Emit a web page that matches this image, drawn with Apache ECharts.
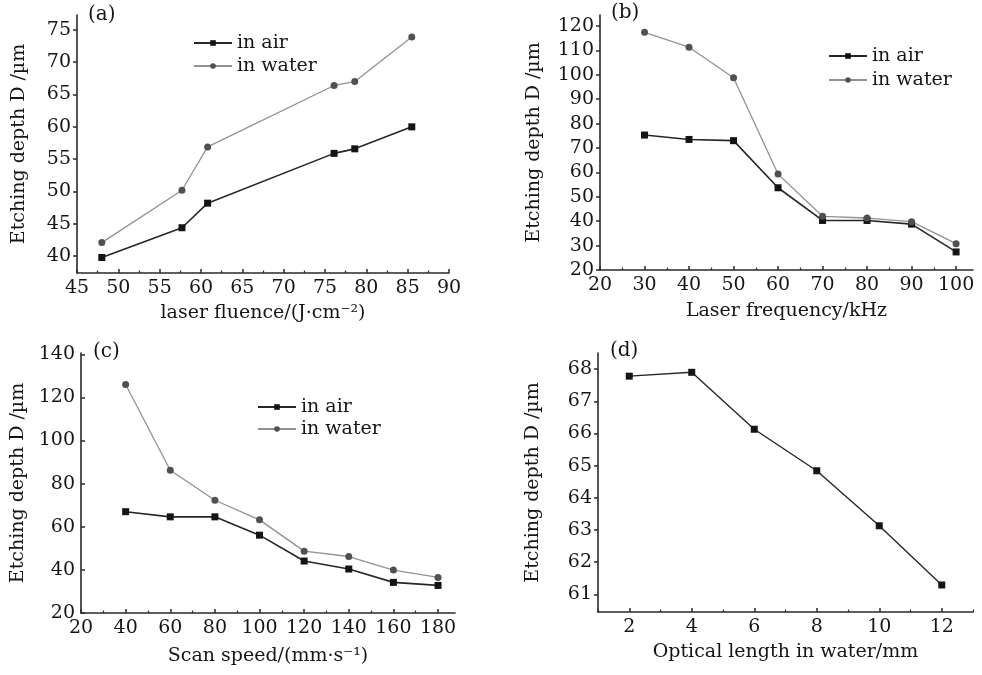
<!DOCTYPE html>
<html>
<head>
<meta charset="utf-8">
<script src="https://cdn.jsdelivr.net/npm/echarts@6/dist/echarts.min.js"></script>
<style>
html,body{margin:0;padding:0;background:#fff;}
#chart{width:982px;height:675px;}
</style>
</head>
<body>
<div id="chart"></div>
<script>
// (a) laser fluence
var fluence = [48, 57.7, 60.8, 76.1, 78.6, 85.5];
var fluence_air = [39.8, 44.4, 48.2, 55.9, 56.6, 60.0];
var fluence_water = [42.1, 50.2, 56.9, 66.4, 67.0, 73.9];
var fluence_x_ticks = [45, 50, 55, 60, 65, 70, 75, 80, 85, 90];
var fluence_x_minor = [47.5, 52.5, 57.5, 62.5, 67.5, 72.5, 77.5, 82.5, 87.5];
var fluence_y_ticks = [40, 45, 50, 55, 60, 65, 70, 75];

// (b) laser frequency
var frequency = [30, 40, 50, 60, 70, 80, 90, 100];
var frequency_air = [75.3, 73.5, 73.0, 53.7, 40.3, 40.3, 38.8, 27.4];
var frequency_water = [117.4, 111.3, 98.8, 59.3, 42.0, 41.3, 39.8, 30.8];
var frequency_x_ticks = [20, 30, 40, 50, 60, 70, 80, 90, 100];
var frequency_x_minor = [25, 35, 45, 55, 65, 75, 85, 95];
var frequency_y_ticks = [20, 30, 40, 50, 60, 70, 80, 90, 100, 110, 120];

// (c) scan speed
var speed = [40, 60, 80, 100, 120, 140, 160, 180];
var speed_air = [67.0, 64.6, 64.6, 56.1, 44.1, 40.4, 34.2, 32.8];
var speed_water = [126.0, 86.2, 72.3, 63.2, 48.7, 46.2, 39.9, 36.5];
var speed_x_ticks = [20, 40, 60, 80, 100, 120, 140, 160, 180];
var speed_x_minor = [30, 50, 70, 90, 110, 130, 150, 170];
var speed_y_ticks = [20, 40, 60, 80, 100, 120, 140];

// (d) optical length in water
var optical_length = [2, 4, 6, 8, 10, 12];
var optical_depth = [67.78, 67.9, 66.13, 64.84, 63.13, 61.29];
var optical_x_ticks = [2, 4, 6, 8, 10, 12];
var optical_x_minor = [1, 3, 5, 7, 9, 11, 13];
var optical_y_ticks = [61, 62, 63, 64, 65, 66, 67, 68];

var FONT = 'DejaVu Serif';
var INK = '#151515';
var SIZE = 19;

function pairs(xs, ys){
	var out = [];
	for(var i = 0; i < xs.length; i++){
		out.push([xs[i], ys[i]]);
	}
	return out;
}

function make_axes(dim, g, min, max, ticks, minor, inside, name, gap){
	var main = {
		type: 'value',
		gridIndex: g,
		min: min,
		max: max,
		position: dim == 'x' ? 'bottom' : 'left',
		axisLine: {show: true, onZero: false, lineStyle: {color: '#2a2a2a', width: 1.6}},
		axisTick: {show: true, inside: inside, length: 4, customValues: ticks, lineStyle: {color: '#2a2a2a', width: 1.5}},
		axisLabel: {customValues: ticks, margin: 6, color: INK, fontFamily: FONT, fontSize: SIZE},
		splitLine: {show: false},
		name: name,
		nameLocation: 'middle',
		nameGap: gap,
		nameTextStyle: {color: INK, fontFamily: FONT, fontSize: SIZE}
	};
	var second = {
		type: 'value',
		gridIndex: g,
		min: min,
		max: max,
		position: dim == 'x' ? 'bottom' : 'left',
		axisLine: {show: false},
		axisTick: {show: minor.length > 0, inside: inside, length: 2.5, customValues: minor, lineStyle: {color: '#2a2a2a', width: 1.2}},
		axisLabel: {show: false},
		splitLine: {show: false}
	};
	return [main, second];
}

function line(name, g, xs, ys, symbol, line_color, dot_color, width){
	return {
		name: name,
		type: 'line',
		xAxisIndex: 2 * g,
		yAxisIndex: 2 * g,
		data: pairs(xs, ys),
		symbol: symbol,
		symbolSize: 7,
		showSymbol: true,
		lineStyle: {color: line_color, width: width},
		itemStyle: {color: dot_color},
		animation: false
	};
}

function legend(left, top, gap){
	return {
		orient: 'vertical',
		left: left,
		top: top,
		itemWidth: 38,
		itemHeight: 7,
		itemGap: gap,
		selectedMode: false,
		data: ['in air', 'in water'],
		textStyle: {color: INK, fontFamily: FONT, fontSize: SIZE, lineHeight: 20}
	};
}

var x_axes = [].concat(
	make_axes('x', 0, 45, 90, fluence_x_ticks, fluence_x_minor, true, 'laser fluence/(J·cm⁻²)', 31),
	make_axes('x', 1, 20, 103.8, frequency_x_ticks, frequency_x_minor, true, 'Laser frequency/kHz', 32),
	make_axes('x', 2, 20, 187.6, speed_x_ticks, speed_x_minor, true, 'Scan speed/(mm·s⁻¹)', 34),
	make_axes('x', 3, 1, 13, optical_x_ticks, optical_x_minor, true, 'Optical length in water/mm', 31)
);
var y_axes = [].concat(
	make_axes('y', 0, 37.4, 77.3, fluence_y_ticks, [], false, 'Etching depth D /µm', 48),
	make_axes('y', 1, 20, 124.5, frequency_y_ticks, [], false, 'Etching depth D /µm', 56),
	make_axes('y', 2, 20, 140.6, speed_y_ticks, [], true, 'Etching depth D /µm', 53),
	make_axes('y', 3, 60.45, 68.5, optical_y_ticks, [], false, 'Etching depth D /µm', 55)
);

var chart = echarts.init(document.getElementById('chart'));
var option = {
	backgroundColor: '#fff',
	animation: false,
	grid: [
		{left: 77, top: 15, width: 372, height: 258, outerBoundsMode: 'none'},
		{left: 600, top: 15, width: 373, height: 255, outerBoundsMode: 'none'},
		{left: 81, top: 353, width: 374, height: 260, outerBoundsMode: 'none'},
		{left: 598, top: 353, width: 375, height: 259, outerBoundsMode: 'none'}
	],
	legend: [
		legend(188, 28, 3),
		legend(823, 41, 4),
		legend(252, 392, 2)
	],
	xAxis: x_axes,
	yAxis: y_axes,
	graphic: [
		{type: 'text', left: 88, top: 5, style: {text: '(a)', fill: INK, font: '20px "DejaVu Serif"'}},
		{type: 'text', left: 611, top: 3, style: {text: '(b)', fill: INK, font: '20px "DejaVu Serif"'}},
		{type: 'text', left: 93, top: 342, style: {text: '(c)', fill: INK, font: '20px "DejaVu Serif"'}},
		{type: 'text', left: 610, top: 341, style: {text: '(d)', fill: INK, font: '20px "DejaVu Serif"'}}
	],
	series: [
		line('in air', 0, fluence, fluence_air, 'rect', '#262626', '#141414', 1.6),
		line('in water', 0, fluence, fluence_water, 'circle', '#919191', '#505050', 1.3),
		line('in air', 1, frequency, frequency_air, 'rect', '#262626', '#141414', 1.6),
		line('in water', 1, frequency, frequency_water, 'circle', '#919191', '#505050', 1.3),
		line('in air', 2, speed, speed_air, 'rect', '#262626', '#141414', 1.6),
		line('in water', 2, speed, speed_water, 'circle', '#919191', '#505050', 1.3),
		line('depth', 3, optical_length, optical_depth, 'rect', '#262626', '#141414', 1.4)
	]
};
chart.setOption(option);
window.addEventListener('resize', function(){
	chart.resize();
});
</script>
</body>
</html>
